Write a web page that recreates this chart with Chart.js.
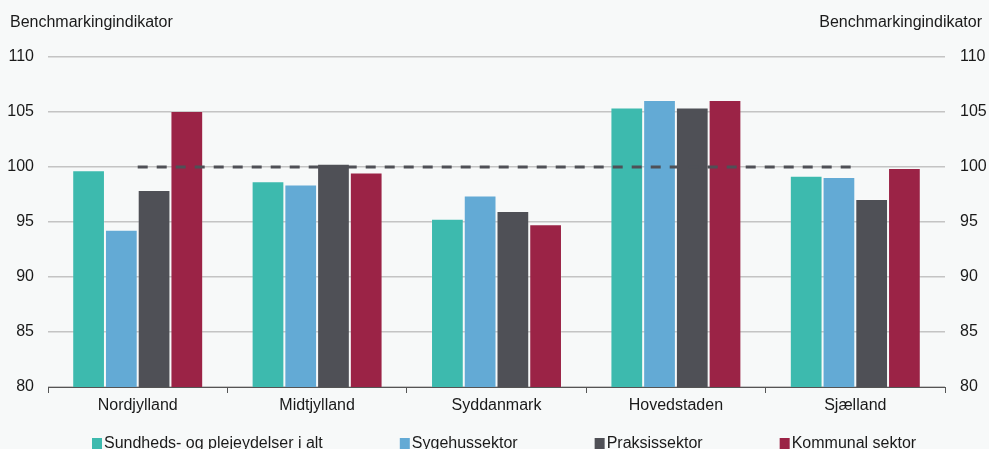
<!DOCTYPE html>
<html>
<head>
<meta charset="utf-8">
<script src="https://cdn.jsdelivr.net/npm/chart.js@4"></script>
<style>
  html, body { margin: 0; padding: 0; background: #f7f9f9; overflow: hidden; }
  #wrap { width: 989px; height: 449px; }
</style>
</head>
<body>
<div id="wrap"><canvas id="chart" width="989" height="449"></canvas></div>
<script>
// Regions and sector benchmark indicators (index, national level = 100)
const regions = ['Nordjylland', 'Midtjylland', 'Syddanmark', 'Hovedstaden', 'Sjælland'];
const seriesNames = ['Sundheds- og plejeydelser i alt', 'Sygehussektor', 'Praksissektor', 'Kommunal sektor'];
const totalCare = [99.7, 98.7, 95.3, 105.4, 99.2];
const hospitalSector = [94.3, 98.4, 97.4, 106.1, 99.1];
const practiceSector = [97.9, 100.3, 96.0, 105.4, 97.1];
const municipalSector = [105.1, 99.5, 94.8, 106.1, 99.9];
const nationalLevel = [100, 100, 100, 100, 100];
const yMin = 80, yMax = 110, yStep = 5;
const axisTitle = 'Benchmarkingindikator';

const colors = ['#3dbaae', '#63aad5', '#4f5056', '#9b2346'];
const FONT = 'Arial, "Liberation Sans", sans-serif';
const font = { family: FONT, size: 16 };
const textColor = '#1a1a1a';

const barSets = [totalCare, hospitalSector, practiceSector, municipalSector].map((vals, i) => ({
  type: 'bar',
  label: seriesNames[i],
  data: vals,
  backgroundColor: colors[i],
  borderColor: 'rgba(255,255,255,0.14)',
  borderWidth: 1,
  categoryPercentage: 0.73,
  barPercentage: 1.0,
  yAxisID: 'y',
  order: 2
}));

// Axis captions above both value axes and a compact legend row at the bottom
const decorations = {
  id: 'decorations',
  afterDraw(chart) {
    const { ctx, chartArea } = chart;
    ctx.save();
    ctx.font = `16px ${FONT}`;
    ctx.fillStyle = textColor;
    ctx.textBaseline = 'alphabetic';
    ctx.textAlign = 'left';
    ctx.fillText(axisTitle, 10, 27);
    ctx.textAlign = 'right';
    ctx.fillText(axisTitle, chart.width - 7, 27);

    // legend
    ctx.textAlign = 'left';
    let x = chartArea.left + 44;
    const box = 10, gapText = 2, gapItem = 77, baseline = 448;
    chart.data.datasets.forEach((ds) => {
      if (ds.type !== 'bar') return;
      ctx.fillStyle = ds.backgroundColor;
      ctx.fillRect(x, baseline - 10, box, 11);
      ctx.fillStyle = textColor;
      ctx.fillText(ds.label, x + box + gapText, baseline);
      x += box + gapText + ctx.measureText(ds.label).width + gapItem;
    });
    ctx.restore();
  }
};

new Chart(document.getElementById('chart'), {
  type: 'bar',
  data: {
    labels: regions,
    datasets: [
      {
        type: 'line',
        label: 'Landsniveau',
        data: nationalLevel,
        borderColor: '#4f5056',
        borderWidth: 3,
        borderDash: [10, 9],
        pointRadius: 0,
        fill: false,
        yAxisID: 'y',
        order: 0
      },
      ...barSets
    ]
  },
  options: {
    responsive: false,
    animation: false,
    layout: { padding: { top: 57, left: 0, right: 0, bottom: 0 } },
    plugins: {
      legend: { display: false },
      tooltip: { enabled: false },
      title: { display: false }
    },
    scales: {
      x: {
        offset: true,
        grid: { drawOnChartArea: false, drawTicks: true, tickLength: 6, color: '#555', offset: true },
        border: { display: true, color: '#555', width: 1 },
        ticks: { font, color: textColor, padding: 3 },
        afterFit(s) { s.height = 62; }
      },
      y: {
        position: 'left',
        min: yMin, max: yMax,
        ticks: { stepSize: yStep, padding: 14, font, color: textColor },
        grid: { color: '#c4c4c4', lineWidth: 1.5, drawTicks: false },
        border: { display: false },
        afterFit(s) { s.width = 48; }
      },
      y2: {
        position: 'right',
        min: yMin, max: yMax,
        ticks: { stepSize: yStep, padding: 15, font, color: textColor },
        grid: { display: false, drawTicks: false },
        border: { display: false },
        afterFit(s) { s.width = 44; }
      }
    }
  },
  plugins: [decorations]
});
</script>
</body>
</html>
